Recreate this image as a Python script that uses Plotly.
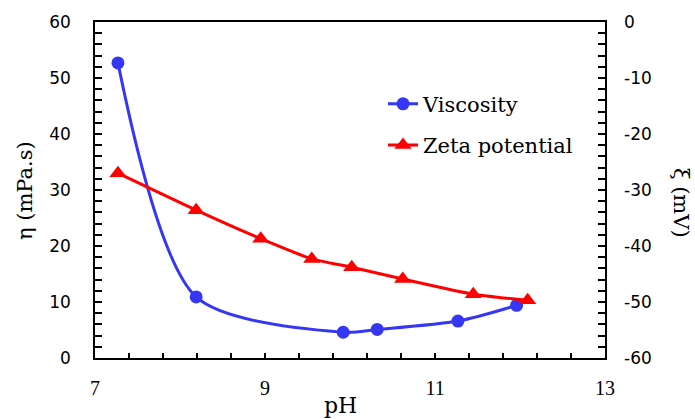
import plotly.graph_objects as go

# Data
ph_visc = [7.27, 8.19, 9.92, 10.32, 11.27, 11.96]
viscosity = [52.7, 10.9, 4.6, 5.1, 6.6, 9.4]

ph_zeta = [7.27, 8.19, 8.95, 9.55, 10.02, 10.62, 11.45, 12.09]
zeta = [-27.0, -33.6, -38.7, -42.3, -43.8, -45.9, -48.6, -49.7]

x_ticks = [7, 9, 11, 13]
y_ticks = [0, 10, 20, 30, 40, 50, 60]
y2_ticks = [-60, -50, -40, -30, -20, -10, 0]
y2_labels = ["-60", "-50", "-40", "-30", "-20", "-10", "0"]

BLUE = "#3636F5"
RED = "#FF0000"
SERIF = "DejaVu Serif"
SANS = "DejaVu Sans"

L, R, T, B = 95, 90, 20, 61
W, H = 695, 419
PW, PH_ = W - L - R, H - T - B


def px(x):
    return (x - L) / PW


def py(y):
    return (H - B - y) / PH_


fig = go.Figure()
fig.add_trace(go.Scatter(
    x=ph_visc, y=viscosity, name="Viscosity", mode="lines+markers",
    line=dict(color=BLUE, width=3, shape="spline", smoothing=0.8),
    marker=dict(symbol="circle", size=13, color=BLUE),
    legendgroup="a",
))
fig.add_trace(go.Scatter(
    x=ph_zeta, y=zeta, name="Zeta potential", mode="lines+markers", yaxis="y2",
    line=dict(color=RED, width=3, shape="spline", smoothing=0.6),
    marker=dict(symbol="triangle-up", size=15, color=RED),
    legendgroup="b",
))

fig.update_layout(
    width=W, height=H,
    margin=dict(l=L, r=R, t=T, b=B),
    paper_bgcolor="white", plot_bgcolor="white",
    showlegend=True,
    legend=dict(
        x=px(383), y=py(82), xanchor="left", yanchor="top",
        font=dict(family=SERIF, size=21, color="black"),
        bgcolor="rgba(0,0,0,0)", tracegroupgap=11,
    ),
    xaxis=dict(
        range=[7, 13], tickvals=x_ticks, ticks="inside", ticklen=5,
        tickcolor="black", tickwidth=1.5,
        minor=dict(dtick=0.4, tick0=7, ticks="inside", ticklen=5,
                   tickcolor="black", tickwidth=1.5),
        showline=True, linecolor="black", linewidth=1.5, mirror=True,
        showgrid=False, zeroline=False,
        tickfont=dict(family="Liberation Serif", size=20, color="black"),
        ticklabelstandoff=11,
    ),
    yaxis=dict(
        range=[0, 60], tickvals=y_ticks, ticks="inside", ticklen=7,
        tickcolor="black", tickwidth=1.5,
        minor=dict(dtick=2, tick0=0, ticks="inside", ticklen=7,
                   tickcolor="black", tickwidth=1.5),
        showline=True, linecolor="black", linewidth=1.5, mirror=True,
        showgrid=False, zeroline=False,
        tickfont=dict(family=SANS, size=17, color="black"),
        ticklabelstandoff=19,
    ),
    yaxis2=dict(
        range=[-60, 0], tickvals=y2_ticks, ticktext=y2_labels,
        ticks="inside", ticklen=7,
        tickcolor="black", tickwidth=1.5,
        minor=dict(dtick=2, tick0=-60, ticks="inside", ticklen=7,
                   tickcolor="black", tickwidth=1.5),
        overlaying="y", side="right",
        showline=False, showgrid=False, zeroline=False,
        tickfont=dict(family=SANS, size=17, color="black"),
        ticklabelstandoff=18,
    ),
    annotations=[
        dict(text="η (mPa.s)", xref="paper", yref="paper", x=px(25), y=py(190),
             xanchor="center", yanchor="middle",
             textangle=-90, showarrow=False,
             font=dict(family=SERIF, size=21, color="black")),
        dict(text="ξ (mV)", xref="paper", yref="paper", x=px(681), y=py(202),
             xanchor="center", yanchor="middle",
             textangle=90, showarrow=False,
             font=dict(family=SERIF, size=21, color="black")),
        dict(text="pH", xref="paper", yref="paper", x=px(340), y=py(406),
             xanchor="center", yanchor="middle", showarrow=False,
             font=dict(family=SERIF, size=22, color="black")),
    ],
)

fig.write_html("out.html")
